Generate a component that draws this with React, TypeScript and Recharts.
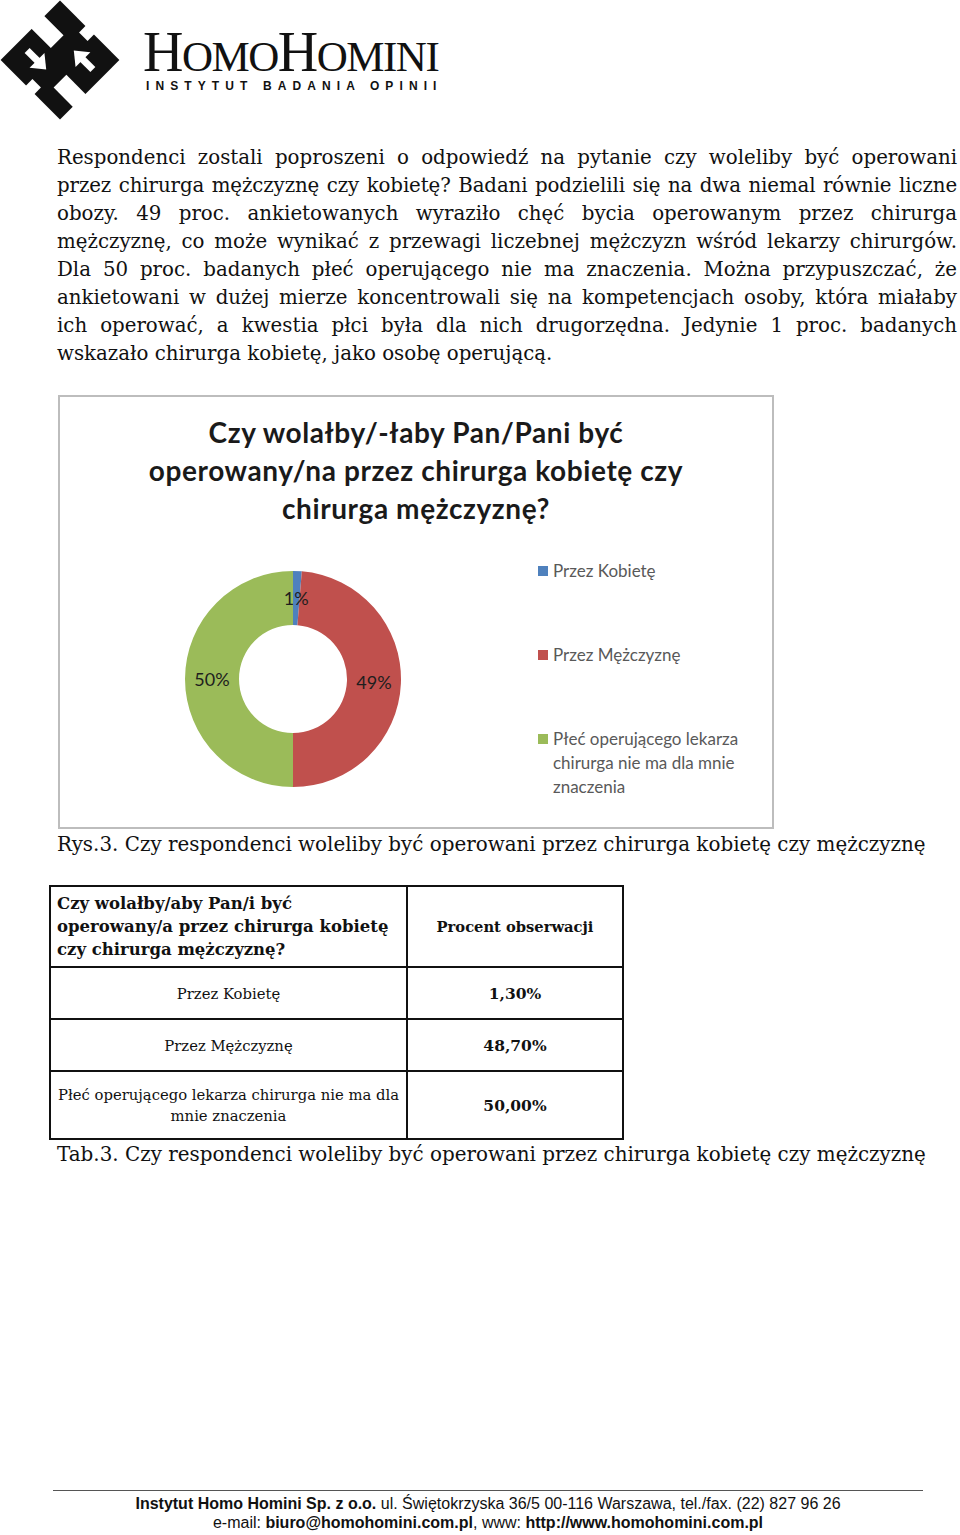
import React from 'react';
import { PieChart, Pie, Cell, Legend } from 'recharts';

// survey answers, shares in percent
const categories = [
  'Przez Kobietę',
  'Przez Mężczyznę',
  'Płeć operującego lekarza chirurga nie ma dla mnie znaczenia',
];
const shares = [1.3, 48.7, 50.0];
const tableValues = ['1,30%', '48,70%', '50,00%'];
const colors = ['#4F81BD', '#C0504D', '#9BBB59'];

const legendLines = [
  ['Przez Kobietę'],
  ['Przez Mężczyznę'],
  ['Płeć operującego lekarza', 'chirurga nie ma dla mnie', 'znaczenia'],
];

const titleLines = [
  'Czy wolałby/-łaby Pan/Pani być',
  'operowany/na przez chirurga kobietę czy',
  'chirurga mężczyznę?',
];

const bodyLines = [
  'Respondenci zostali poproszeni o odpowiedź na pytanie czy woleliby być operowani',
  'przez chirurga mężczyznę czy kobietę? Badani podzielili się na dwa niemal równie liczne',
  'obozy. 49 proc. ankietowanych wyraziło chęć bycia operowanym przez chirurga',
  'mężczyznę, co może wynikać z przewagi liczebnej mężczyzn wśród lekarzy chirurgów.',
  'Dla 50 proc. badanych płeć operującego nie ma znaczenia. Można przypuszczać, że',
  'ankietowani w dużej mierze koncentrowali się na kompetencjach osoby, która miałaby',
  'ich operować, a kwestia płci była dla nich drugorzędna. Jedynie 1 proc. badanych',
  'wskazało chirurga kobietę, jako osobę operującą.',
];

const serif = '"DejaVu Serif", "Liberation Serif", serif';
const calibri = 'Lato, "Open Sans", sans-serif';

const data = categories.map((name, i) => ({ name, value: shares[i] }));

const RAD = Math.PI / 180;

function renderLabel(props: any) {
  const { cx, cy, midAngle, innerRadius, outerRadius, percent } = props;
  const r = (innerRadius + outerRadius) / 2;
  const x = cx + r * Math.cos(-midAngle * RAD);
  const y = cy + r * Math.sin(-midAngle * RAD);
  return (
    <text x={x} y={y} textAnchor="middle" dominantBaseline="central" fill="#1e1e1e" fontSize={18} fontFamily={calibri}>
      {Math.round(percent * 100)}%
    </text>
  );
}

function LegendBox() {
  const tops = [174, 258, 342];
  return (
    <div style={{ position: 'relative', width: 230, height: 430, fontFamily: calibri, fontSize: 17, color: '#595959' }}>
      {legendLines.map((lines, i) => (
        <div key={i} style={{ position: 'absolute', left: 0, top: tops[i] - 12 }}>
          <div style={{ position: 'absolute', left: 0, top: 7, width: 10, height: 10, background: colors[i] }} />
          {lines.map((l, j) => (
            <div key={j} style={{ marginLeft: 15, lineHeight: '24px', whiteSpace: 'nowrap' }}>{l}</div>
          ))}
        </div>
      ))}
    </div>
  );
}

function Logo() {
  return (
    <svg width={122} height={122} style={{ position: 'absolute', left: 0, top: 0 }}>
      <g transform="translate(60,60) rotate(-45)">
        <rect x={-42} y={-42} width={84} height={84} fill="#111" />
        <rect x={2} y={-43} width={18} height={28} fill="#fff" />
        <rect x={-24} y={15} width={18} height={28} fill="#fff" />
        <rect x={-43} y={-6} width={10} height={12} fill="#fff" />
        <rect x={33} y={-6} width={10} height={12} fill="#fff" />
        <rect x={-20} y={-30} width={7} height={15} fill="#fff" />
        <polygon points="-27,-16 -6,-16 -16.5,-3" fill="#fff" />
        <rect x={13} y={15} width={7} height={15} fill="#fff" />
        <polygon points="6,16 27,16 16.5,3" fill="#fff" />
      </g>
    </svg>
  );
}

export default function App() {
  return (
    <div style={{ position: 'absolute', left: 0, top: 0, width: 960, height: 1535, background: '#fff', overflow: 'hidden' }}>
      <Logo />
      <div style={{ position: 'absolute', left: 143, top: 26, fontFamily: '"Liberation Serif", serif', color: '#111', whiteSpace: 'nowrap', letterSpacing: -1.5, lineHeight: '52px' }}>
        <span style={{ fontSize: 56 }}>H</span><span style={{ fontSize: 43 }}>OMO</span>
        <span style={{ fontSize: 56 }}>H</span><span style={{ fontSize: 43 }}>OMINI</span>
      </div>
      <div style={{ position: 'absolute', left: 146, top: 79, fontFamily: '"Liberation Sans", sans-serif', fontWeight: 700, fontSize: 12, letterSpacing: 6.1, color: '#111', whiteSpace: 'nowrap' }}>
        INSTYTUT BADANIA OPINII
      </div>

      <div style={{ position: 'absolute', left: 57, top: 144, width: 900, fontFamily: serif, fontSize: 19.8, lineHeight: '28px', color: '#111' }}>
        {bodyLines.map((l, i) => (
          <div key={i} style={{ textAlign: i < bodyLines.length - 1 ? 'justify' : 'left', textAlignLast: i < bodyLines.length - 1 ? 'justify' : 'left', whiteSpace: 'nowrap', letterSpacing: i === 1 ? -0.1 : 0 }}>{l}</div>
        ))}
      </div>

      <div style={{ position: 'absolute', left: 58, top: 395, width: 712, height: 430, border: '2px solid #bdbdbd' }}>
        <div style={{ position: 'absolute', left: 0, top: 16, width: 712, textAlign: 'center', fontFamily: calibri, fontWeight: 700, fontSize: 28, letterSpacing: 0.6, lineHeight: '38px', color: '#1a1a1a' }}>
          {titleLines.map((t, i) => <div key={i}>{t}</div>)}
        </div>
        <PieChart width={712} height={430} margin={{ top: 0, right: 0, bottom: 0, left: 0 }} style={{ position: 'absolute', left: 0, top: 0 }}>
          <Pie
            data={data}
            dataKey="value"
            nameKey="name"
            cx={233}
            cy={282}
            outerRadius={108}
            innerRadius={54}
            startAngle={90}
            endAngle={-270}
            stroke="none"
            label={renderLabel}
            labelLine={false}
            isAnimationActive={false}
          >
            {data.map((d, i) => <Cell key={d.name} fill={colors[i]} />)}
          </Pie>
          <Legend content={<LegendBox />} wrapperStyle={{ position: 'absolute', left: 478, top: 0, width: 230, height: 430 }} />
        </PieChart>
      </div>

      <div style={{ position: 'absolute', left: 57, top: 831, fontFamily: serif, fontSize: 19.9, lineHeight: '28px', color: '#111', whiteSpace: 'nowrap' }}>
        Rys.3. Czy respondenci woleliby być operowani przez chirurga kobietę czy mężczyznę
      </div>

      <table style={{ position: 'absolute', left: 49, top: 885, width: 573, borderCollapse: 'collapse', tableLayout: 'fixed', fontFamily: serif, color: '#111' }}>
        <colgroup>
          <col style={{ width: 357 }} />
          <col style={{ width: 216 }} />
        </colgroup>
        <tbody>
          <tr style={{ height: 81 }}>
            <td style={{ border: '2px solid #111', padding: '0 6px', fontWeight: 700, fontSize: 16.5, lineHeight: '23px', verticalAlign: 'middle', whiteSpace: 'nowrap' }}>
              Czy wolałby/aby Pan/i być<br />operowany/a przez chirurga kobietę<br />czy chirurga mężczyznę?
            </td>
            <td style={{ border: '2px solid #111', textAlign: 'center', fontWeight: 700, fontSize: 14.7 }}>Procent obserwacji</td>
          </tr>
          {categories.map((c, i) => (
            <tr key={c} style={{ height: i === 2 ? 68 : 52 }}>
              <td style={{ border: '2px solid #111', textAlign: 'center', fontSize: 14.8, lineHeight: '21px', padding: '0 2px', whiteSpace: 'nowrap' }}>
                {i === 2 ? <>Płeć operującego lekarza chirurga nie ma dla<br />mnie znaczenia</> : c}
              </td>
              <td style={{ border: '2px solid #111', textAlign: 'center', fontWeight: 700, fontSize: 15.5 }}>{tableValues[i]}</td>
            </tr>
          ))}
        </tbody>
      </table>

      <div style={{ position: 'absolute', left: 57, top: 1141, fontFamily: serif, fontSize: 19.9, lineHeight: '28px', color: '#111', whiteSpace: 'nowrap' }}>
        Tab.3. Czy respondenci woleliby być operowani przez chirurga kobietę czy mężczyznę
      </div>

      <div style={{ position: 'absolute', left: 53, top: 1490, width: 870, height: 0, borderTop: '1.5px solid #555' }} />
      <div style={{ position: 'absolute', left: 53, top: 1494, width: 870, textAlign: 'center', fontFamily: '"Liberation Sans Narrow", "Liberation Sans", sans-serif', fontSize: 16, lineHeight: '19px', color: '#111', whiteSpace: 'nowrap' }}>
        <div><b>Instytut Homo Homini Sp. z o.o.</b> ul. Świętokrzyska 36/5 00-116 Warszawa, tel./fax. (22) 827 96 26</div>
        <div>e-mail: <b>biuro@homohomini.com.pl</b>, www: <b>http://www.homohomini.com.pl</b></div>
      </div>
    </div>
  );
}
